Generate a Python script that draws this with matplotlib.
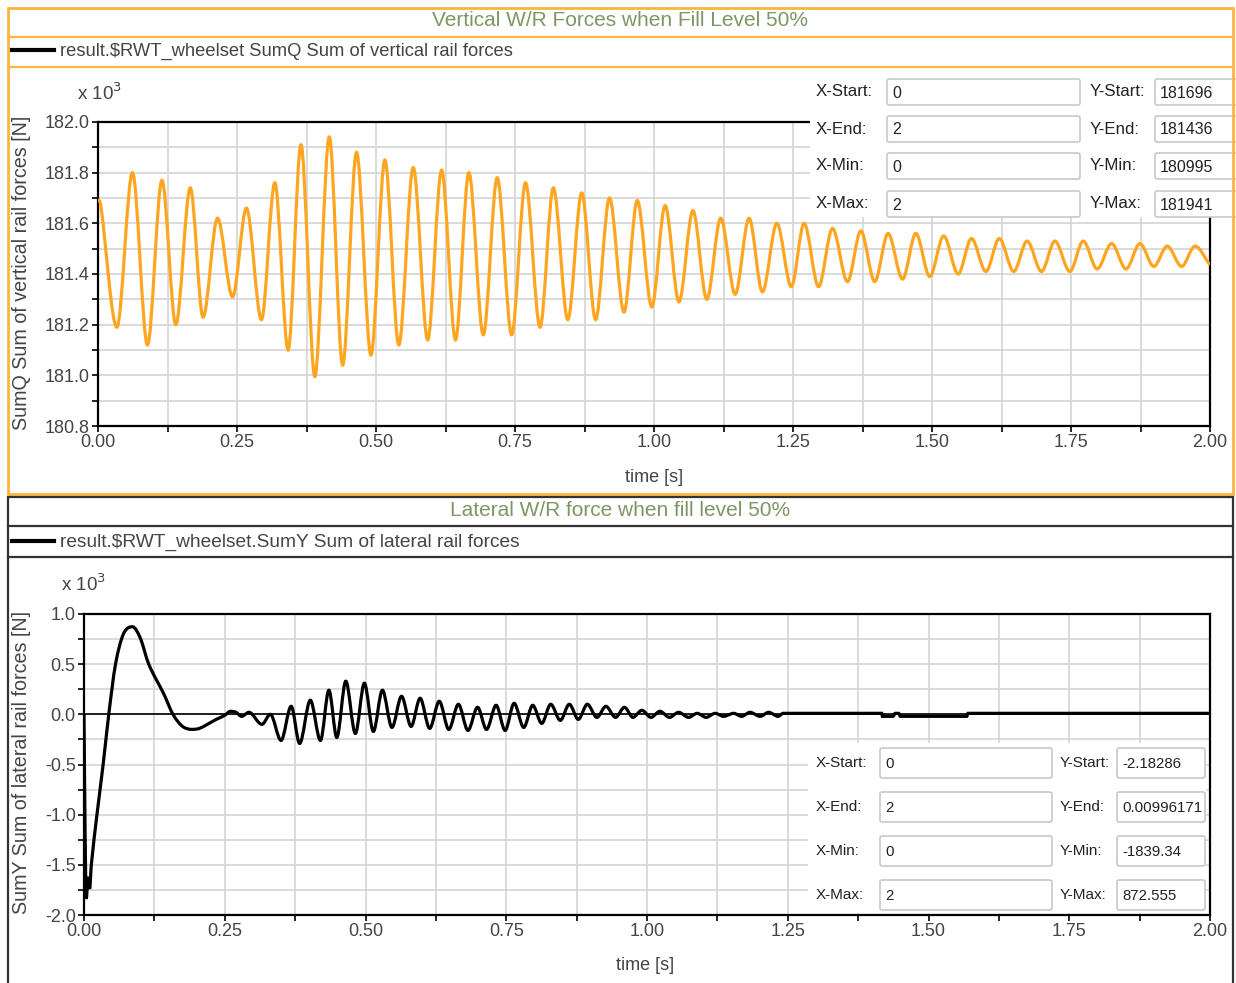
import matplotlib
matplotlib.use("Agg")
import matplotlib.pyplot as plt
from matplotlib.patches import Rectangle, FancyBboxPatch, PathPatch
from matplotlib.lines import Line2D
from matplotlib.path import Path
from matplotlib.ticker import MultipleLocator, FormatStrFormatter

plt.rcParams['font.family'] = ['Liberation Sans', 'DejaVu Sans']

# --- data (values in kN, x10^3 N) ---
q_time = [0.000, 0.005, 0.034, 0.062, 0.089, 0.115, 0.140, 0.166, 0.189, 0.215,
          0.242, 0.267, 0.294, 0.318, 0.342, 0.365, 0.390, 0.416, 0.440, 0.465,
          0.491, 0.516, 0.541, 0.567, 0.593, 0.618, 0.643, 0.667, 0.693, 0.718,
          0.744, 0.769, 0.795, 0.819, 0.845, 0.870, 0.895, 0.920, 0.946, 0.970,
          0.996, 1.020, 1.045, 1.070, 1.095, 1.120, 1.146, 1.171, 1.195, 1.221,
          1.247, 1.270, 1.296, 1.321, 1.348, 1.372, 1.397, 1.421, 1.447, 1.471,
          1.496, 1.521, 1.547, 1.571, 1.597, 1.621, 1.647, 1.671, 1.697, 1.721,
          1.748, 1.772, 1.797, 1.823, 1.849, 1.874, 1.899, 1.923, 1.949, 1.973,
          2.000]
q_value = [181.696, 181.67, 181.19, 181.80, 181.12, 181.77, 181.20, 181.74, 181.23, 181.62,
           181.31, 181.66, 181.22, 181.76, 181.10, 181.91, 180.995, 181.941, 181.04, 181.88,
           181.08, 181.85, 181.12, 181.82, 181.14, 181.81, 181.14, 181.80, 181.16, 181.78,
           181.16, 181.76, 181.19, 181.74, 181.22, 181.72, 181.22, 181.70, 181.25, 181.69,
           181.27, 181.67, 181.29, 181.65, 181.30, 181.62, 181.32, 181.62, 181.33, 181.60,
           181.35, 181.60, 181.35, 181.58, 181.37, 181.57, 181.37, 181.56, 181.38, 181.56,
           181.39, 181.55, 181.40, 181.54, 181.41, 181.54, 181.41, 181.53, 181.41, 181.53,
           181.41, 181.53, 181.42, 181.52, 181.42, 181.52, 181.43, 181.51, 181.43, 181.51,
           181.436]

y_time = [0.000, 0.002, 0.004, 0.007, 0.010, 0.013, 0.023, 0.034, 0.044, 0.056,
          0.070, 0.086, 0.100, 0.115, 0.142, 0.158, 0.175, 0.192, 0.205, 0.219,
          0.235, 0.250, 0.260, 0.270, 0.280, 0.293, 0.316, 0.331, 0.350, 0.368,
          0.383, 0.402, 0.420, 0.435, 0.449, 0.465, 0.482, 0.498, 0.514, 0.530,
          0.547, 0.564, 0.581, 0.597, 0.614, 0.631, 0.648, 0.665, 0.682, 0.699,
          0.715, 0.732, 0.748, 0.764, 0.781, 0.797, 0.813, 0.829, 0.846, 0.862,
          0.878, 0.894, 0.911, 0.927, 0.944, 0.960, 0.975, 0.991, 1.007, 1.023,
          1.040, 1.056, 1.074, 1.089, 1.105, 1.121, 1.136, 1.154, 1.168, 1.183,
          1.201, 1.216, 1.233, 1.242, 1.417, 1.418, 1.437, 1.441, 1.447, 1.450,
          1.568, 1.570, 2.000]
y_value = [-0.002, -1.20, -1.84, -1.62, -1.74, -1.50, -1.00, -0.50, 0.00, 0.50,
           0.80, 0.873, 0.76, 0.50, 0.20, 0.00, -0.12, -0.15, -0.14, -0.10,
           -0.05, -0.01, 0.03, 0.02, -0.02, 0.02, -0.10, 0.00, -0.26, 0.08,
           -0.29, 0.14, -0.26, 0.24, -0.23, 0.33, -0.19, 0.31, -0.17, 0.24,
           -0.13, 0.18, -0.12, 0.16, -0.14, 0.13, -0.15, 0.10, -0.16, 0.07,
           -0.15, 0.09, -0.16, 0.11, -0.13, 0.09, -0.09, 0.10, -0.06, 0.10,
           -0.05, 0.10, -0.03, 0.08, -0.03, 0.07, -0.03, 0.04, -0.03, 0.03,
           -0.03, 0.02, -0.03, 0.01, -0.03, 0.01, -0.02, 0.01, -0.02, 0.02,
           -0.02, 0.02, -0.02, 0.01, 0.01, -0.02, -0.02, 0.01, 0.01, -0.02,
           -0.02, 0.01, 0.00996]

info_x_labels = ["X-Start:", "X-End:", "X-Min:", "X-Max:"]
info_x_values = ["0", "2", "0", "2"]
info_y_labels = ["Y-Start:", "Y-End:", "Y-Min:", "Y-Max:"]
q_info_values = ["181696", "181436", "180995", "181941"]
y_info_values = ["-2.18286", "0.00996171", "-1839.34", "872.555"]

W, H = 1236, 983
ORANGE = '#ffa51f'
FRAME_OR = '#ffb43c'
TITLE_C = '#7d9663'
TXT = '#444444'

fig = plt.figure(figsize=(W / 100, H / 100), dpi=100)


def fx(x):
    return x / W


def fy(y):
    return 1 - y / H


def box(x0, y0, x1, y1, **kw):
    r = Rectangle((fx(x0), fy(y1)), (x1 - x0) / W, (y1 - y0) / H,
                  transform=fig.transFigure, **kw)
    fig.add_artist(r)


def hline(x0, x1, y, **kw):
    fig.add_artist(Line2D([fx(x0), fx(x1)], [fy(y), fy(y)], transform=fig.transFigure, **kw))


def smooth_curve(t, v):
    """Cubic Hermite path through the read points, flat at turning points."""
    n = len(t)
    slopes = []
    for i in range(n):
        if i == 0:
            m = (v[1] - v[0]) / (t[1] - t[0])
        elif i == n - 1:
            m = (v[-1] - v[-2]) / (t[-1] - t[-2])
        elif (v[i] - v[i - 1]) * (v[i + 1] - v[i]) <= 0:
            m = 0.0
        else:
            m = (v[i + 1] - v[i - 1]) / (t[i + 1] - t[i - 1])
        slopes.append(m)
    verts = [(t[0], v[0])]
    codes = [Path.MOVETO]
    for i in range(n - 1):
        dt = t[i + 1] - t[i]
        verts += [(t[i] + dt / 3, v[i] + slopes[i] * dt / 3),
                  (t[i + 1] - dt / 3, v[i + 1] - slopes[i + 1] * dt / 3),
                  (t[i + 1], v[i + 1])]
        codes += [Path.CURVE4] * 3
    return Path(verts, codes)


def make_axes(left, top, right, bottom):
    ax = fig.add_axes([fx(left), fy(bottom), (right - left) / W, (bottom - top) / H])
    ax.set_xlim(0, 2)
    ax.xaxis.set_major_locator(MultipleLocator(0.25))
    ax.xaxis.set_minor_locator(MultipleLocator(0.125))
    ax.xaxis.set_major_formatter(FormatStrFormatter('%.2f'))
    ax.grid(True, which='both', color='#d4d4d4', lw=1.2, zorder=0)
    ax.tick_params(which='both', direction='out', length=4, width=1.2,
                   labelsize=13, labelcolor=TXT, pad=2)
    for s in ax.spines.values():
        s.set_linewidth(1.6)
    return ax


def info_panel(x0, y0, x1, y1, rows, xl, xf0, xf1, yl, yf0, yf1, fh, yvals, fs, vfs):
    box(x0, y0, x1, y1, facecolor='white', edgecolor='none', zorder=5)
    for i, r in enumerate(rows):
        fig.text(fx(xl), fy(r), info_x_labels[i], fontsize=fs, color='#222222',
                 va='center', zorder=7)
        fig.text(fx(yl), fy(r), info_y_labels[i], fontsize=fs, color='#222222',
                 va='center', zorder=7)
        for a, b, v in ((xf0, xf1, info_x_values[i]), (yf0, yf1, yvals[i])):
            fig.add_artist(FancyBboxPatch((fx(a), fy(r + fh / 2)), (b - a) / W, fh / H,
                                          boxstyle='round,pad=0,rounding_size=0.002',
                                          transform=fig.transFigure, facecolor='white',
                                          edgecolor='#c8c8c8', lw=1.2, zorder=6))
            fig.text(fx(a + 5), fy(r + 1), v, fontsize=vfs, color='#222222',
                     va='center', zorder=7)


# --- top panel: vertical forces ---
box(8, 8, 1233, 494, facecolor='none', edgecolor=FRAME_OR, lw=2, zorder=8)
hline(8, 1233, 37, color=FRAME_OR, lw=1.6, zorder=8)
hline(8, 1233, 67, color=FRAME_OR, lw=1.6, zorder=8)
fig.text(fx(620), fy(21), "Vertical W/R Forces when Fill Level 50%", fontsize=15,
         color=TITLE_C, ha='center', va='center')
hline(12, 54, 50, color='black', lw=3)
fig.text(fx(60), fy(51), r"result.\$RWT_wheelset SumQ Sum of vertical rail forces",
         fontsize=13.2, color=TXT, va='center')

ax1 = make_axes(98, 122, 1210, 426)
ax1.add_patch(PathPatch(smooth_curve(q_time, q_value), fill=False,
                        edgecolor=ORANGE, lw=2.3, zorder=3))
ax1.set_ylim(180.8, 182.0)
ax1.yaxis.set_major_locator(MultipleLocator(0.2))
ax1.yaxis.set_minor_locator(MultipleLocator(0.1))
ax1.yaxis.set_major_formatter(FormatStrFormatter('%.1f'))
fig.text(fx(77), fy(93), r"x 10$^3$", fontsize=13.5, color=TXT, va='center')
fig.text(fx(22), fy(273), "SumQ Sum of vertical rail forces [N]", fontsize=14.2,
         color=TXT, rotation=90, ha='center', va='center')
fig.text(fx(654), fy(477), "time [s]", fontsize=13, color=TXT, ha='center', va='center')
info_panel(810, 68, 1232, 217, [92, 129, 166, 204], 816, 887, 1080, 1090, 1155, 1240, 26,
           q_info_values, 12.2, 11.5)

# --- bottom panel: lateral forces ---
box(8, 497, 1233, 995, facecolor='none', edgecolor='#333333', lw=1.6, zorder=8)
hline(8, 1233, 526, color='#333333', lw=1.6, zorder=8)
hline(8, 1233, 557, color='#333333', lw=1.6, zorder=8)
fig.text(fx(620), fy(511), "Lateral W/R force when fill level 50%", fontsize=15,
         color=TITLE_C, ha='center', va='center')
hline(12, 54, 541, color='black', lw=3)
fig.text(fx(60), fy(542), r"result.\$RWT_wheelset.SumY Sum of lateral rail forces",
         fontsize=13.8, color=TXT, va='center')

ax2 = make_axes(84, 614, 1210, 915)
ax2.axhline(0, color='black', lw=1.2, zorder=2)
ax2.add_patch(PathPatch(smooth_curve(y_time, y_value), fill=False,
                        edgecolor='black', lw=2.3, zorder=3))
ax2.set_ylim(-2.0, 1.0)
ax2.yaxis.set_major_locator(MultipleLocator(0.5))
ax2.yaxis.set_minor_locator(MultipleLocator(0.25))
ax2.yaxis.set_major_formatter(FormatStrFormatter('%.1f'))
fig.text(fx(61), fy(584), r"x 10$^3$", fontsize=13.5, color=TXT, va='center')
fig.text(fx(22), fy(762), "SumY Sum of lateral rail forces [N]", fontsize=14.2,
         color=TXT, rotation=90, ha='center', va='center')
fig.text(fx(645), fy(966), "time [s]", fontsize=13, color=TXT, ha='center', va='center')
info_panel(808, 743, 1206, 913, [763, 807, 851, 895], 816, 880, 1052, 1060, 1117, 1205, 30,
           y_info_values, 11, 10.8)

fig.savefig("out.png", dpi=100, facecolor='white')
